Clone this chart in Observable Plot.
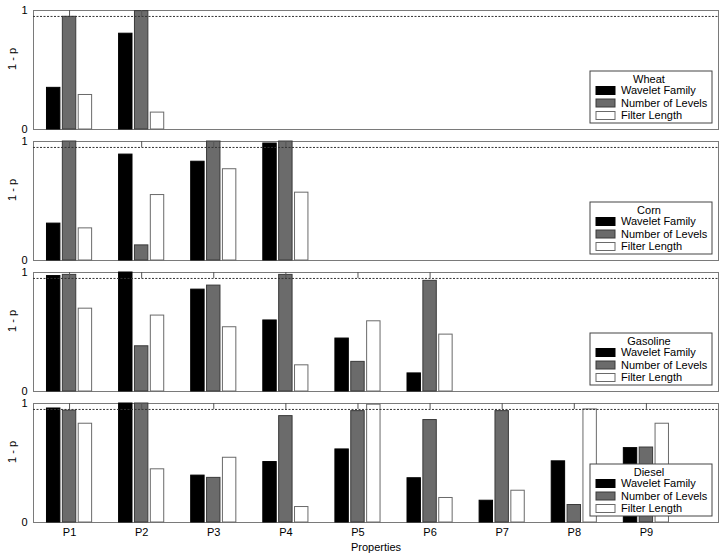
<!DOCTYPE html>
<html><head><meta charset="utf-8">
<script src="https://cdn.jsdelivr.net/npm/d3@7"></script>
<script src="https://cdn.jsdelivr.net/npm/@observablehq/plot@0.6"></script>
<style>
body{margin:0;background:#fff}
#chart{width:724px;height:559px}
</style>
</head><body><div id="chart"></div>
<script>
// ---- data ----
const categories = ["P1","P2","P3","P4","P5","P6","P7","P8","P9"];
const crops = ["Wheat","Corn","Gasoline","Diesel"];
const seriesNames = ["Wavelet Family","Number of Levels","Filter Length"];
const threshold = 0.95;
const yTicks = [0, 1];

const wheatWavelet = [0.35, 0.805];
const wheatLevels  = [0.947, 0.995];
const wheatFilter  = [0.29, 0.142];

const cornWavelet = [0.31, 0.89, 0.83, 0.983];
const cornLevels  = [1.0, 0.127, 1.0, 1.0];
const cornFilter  = [0.27, 0.55, 0.767, 0.57];

const gasolineWavelet = [0.97, 1.0, 0.856, 0.597, 0.445, 0.152];
const gasolineLevels  = [0.98, 0.38, 0.89, 0.98, 0.249, 0.93];
const gasolineFilter  = [0.696, 0.638, 0.54, 0.22, 0.59, 0.478];

const dieselWavelet = [0.958, 1.0, 0.394, 0.508, 0.614, 0.372, 0.183, 0.514, 0.625];
const dieselLevels  = [0.94, 1.0, 0.375, 0.894, 0.936, 0.861, 0.936, 0.147, 0.63];
const dieselFilter  = [0.83, 0.447, 0.544, 0.13, 0.99, 0.206, 0.267, 0.95, 0.83];

const cropSeries = {
  Wheat: [wheatWavelet, wheatLevels, wheatFilter],
  Corn: [cornWavelet, cornLevels, cornFilter],
  Gasoline: [gasolineWavelet, gasolineLevels, gasolineFilter],
  Diesel: [dieselWavelet, dieselLevels, dieselFilter]
};

// ---- styles ----
const fills   = ["#000000", "#6b6b6b", "#ffffff"];
const strokes = ["#000000", "#3a3a3a", "#6a6a6a"];
const groupOffset = 0.22;   // bar offset within a group (x units)
const barHalf = 0.093;      // half bar width (x units)
const tickLength = 0.05;    // inward top tick length (y units)
const font = "'Liberation Sans', Arial, Helvetica, sans-serif";

// ---- table ----
const rows = [];
for (const crop of crops) {
  cropSeries[crop].forEach((vals, k) => {
    vals.forEach((v, j) => rows.push({crop, series: seriesNames[k], k, idx: j + 1, cat: categories[j], value: v}));
  });
}
const tickRows = rows.filter(d => d.k === 1);

const plot = Plot.plot({
  width: 724,
  height: 559,
  marginTop: 9,
  marginBottom: 35,
  marginLeft: 33,
  marginRight: 6,
  style: {fontFamily: font, fontSize: "11px", color: "#000", background: "#fff"},
  x: {domain: [0.5, 10], ticks: categories.map((_, i) => i + 1), tickFormat: i => categories[i - 1], tickSize: 0, tickPadding: 6, label: null},
  y: {domain: [0, 1], ticks: yTicks, tickFormat: d => String(d), tickSize: 0, tickPadding: 6, label: null},
  fy: {domain: crops, axis: null, paddingInner: 0.089, paddingOuter: 0, label: null},
  marks: [
    Plot.frame({stroke: "#7a7a7a"}),
    ...seriesNames.map((s, k) => Plot.rect(rows.filter(d => d.k === k), {
      x1: d => d.idx + (k - 1) * groupOffset - barHalf,
      x2: d => d.idx + (k - 1) * groupOffset + barHalf,
      y1: 0,
      y2: "value",
      fy: "crop",
      fill: fills[k],
      stroke: strokes[k],
      strokeWidth: 1
    })),
    Plot.ruleX(tickRows, {x: "idx", fy: "crop", y1: () => yTicks[1], y2: () => yTicks[1] - tickLength, stroke: "#555"}),
    Plot.ruleY([threshold], {stroke: "#333", strokeDasharray: "2,1.5", strokeWidth: 1}),
    Plot.text(crops, {fy: d => d, text: () => "1 - p", frameAnchor: "left", rotate: -90, dx: -21, fontSize: 11}),
    Plot.text(["Properties"], {fy: () => "Diesel", text: d => d, frameAnchor: "bottom", dy: 28, fontSize: 11})
  ]
});

document.getElementById("chart").appendChild(plot);

// ---- legends (drawn into the same svg) ----
const svg = d3.select(plot);
const fyScale = plot.scale("fy");
const xScale = plot.scale("x");
const bw = fyScale.bandwidth;
const boxW = 122, boxH = 52;
const right = xScale.apply(10) - 6;
crops.forEach(crop => {
  const top = fyScale.apply(crop);
  const bottom = top + bw - 6;
  const left = right - boxW;
  const g = svg.append("g").attr("font-family", font).attr("font-size", 11).attr("text-anchor", "start");
  g.append("rect").attr("x", left).attr("y", bottom - boxH).attr("width", boxW).attr("height", boxH)
    .attr("fill", "#fff").attr("stroke", "#444");
  g.append("text").attr("x", left + boxW / 2 - 2).attr("y", bottom - boxH + 8.5).attr("dy", "0.35em")
    .attr("text-anchor", "middle").attr("fill", "#000").text(crop);
  seriesNames.forEach((s, k) => {
    const cy = bottom - boxH + 19.5 + k * 12.5;
    g.append("rect").attr("x", left + 6).attr("y", cy - 4).attr("width", 19).attr("height", 8)
      .attr("fill", fills[k]).attr("stroke", strokes[k]);
    g.append("text").attr("x", left + 31).attr("y", cy).attr("dy", "0.35em")
      .attr("text-anchor", "start").attr("fill", "#000").text(s);
  });
});
</script>
</body></html>
